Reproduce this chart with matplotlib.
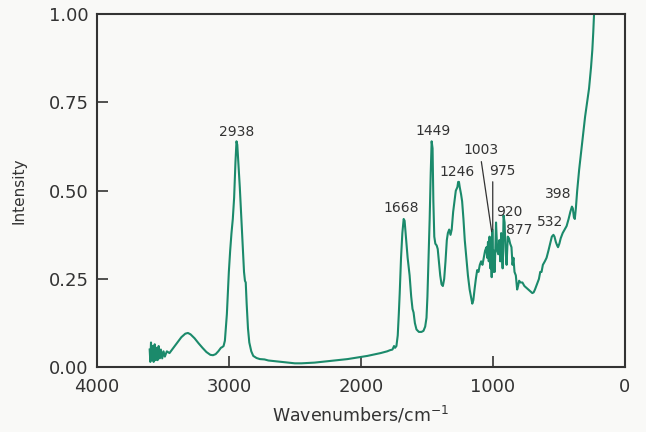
import numpy as np
import matplotlib
matplotlib.use("Agg")
import matplotlib.pyplot as plt

# spectrum (wavenumber in cm-1, intensity)
wavenumber = [3600, 3595, 3590, 3583, 3577, 3570, 3562, 3555, 3548, 3540, 3532, 3524, 3515,
              3505, 3495, 3485, 3470, 3450, 3420, 3390, 3360, 3330, 3310, 3290, 3260, 3230,
              3200, 3170, 3140, 3120, 3100, 3080, 3060, 3050, 3040, 3030, 3015, 3000, 2990,
              2980, 2970, 2960, 2950, 2942, 2936, 2928, 2917, 2905, 2895, 2885, 2878, 2872,
              2865, 2855, 2845, 2830, 2815, 2790, 2765, 2730, 2700, 2650, 2600, 2550, 2500,
              2450, 2400, 2350, 2300, 2250, 2200, 2150, 2100, 2050, 2000, 1950, 1900, 1850,
              1800, 1780, 1760, 1748, 1740, 1730, 1720, 1712, 1705, 1695, 1685, 1675, 1668,
              1658, 1645, 1630, 1618, 1608, 1600, 1590, 1578, 1560, 1540, 1525, 1512, 1502,
              1495, 1487, 1478, 1470, 1463, 1456, 1450, 1443, 1435, 1425, 1417, 1408, 1398,
              1388, 1378, 1368, 1358, 1348, 1340, 1330, 1320, 1311, 1300, 1290, 1280, 1268,
              1262, 1256, 1250, 1240, 1232, 1222, 1212, 1200, 1188, 1175, 1165, 1155, 1147,
              1138, 1128, 1118, 1108, 1098, 1088, 1078, 1068, 1058, 1048, 1042, 1036, 1030,
              1024, 1018, 1013, 1008, 1003, 996, 990, 985, 975, 966, 958, 950, 943, 936, 930,
              925, 918, 910, 903, 895, 886, 877, 868, 858, 850, 843, 835, 825, 815, 808, 800,
              790, 775, 760, 745, 730, 715, 700, 690, 680, 665, 650, 640, 630, 620, 605, 592,
              578, 565, 552, 540, 532, 522, 512, 505, 495, 485, 470, 455, 440, 425, 412, 400,
              393, 385, 378, 370, 360, 345, 330, 315, 300, 285, 270, 255, 245, 238, 230]
intensity = [0.05, 0.015, 0.07, 0.02, 0.06, 0.015, 0.065, 0.02, 0.055, 0.02, 0.06, 0.025, 0.05,
             0.025, 0.045, 0.03, 0.045, 0.04, 0.055, 0.07, 0.085, 0.095, 0.097, 0.093, 0.082,
             0.068, 0.055, 0.043, 0.035, 0.034, 0.037, 0.045, 0.055, 0.057, 0.06, 0.075, 0.15,
             0.27, 0.33, 0.38, 0.42, 0.48, 0.58, 0.64, 0.63, 0.58, 0.51, 0.42, 0.34, 0.27,
             0.245, 0.24, 0.18, 0.11, 0.07, 0.045, 0.032, 0.026, 0.023, 0.022, 0.019, 0.017,
             0.015, 0.013, 0.011, 0.011, 0.012, 0.013, 0.015, 0.017, 0.019, 0.021, 0.023,
             0.026, 0.029, 0.032, 0.036, 0.04, 0.045, 0.048, 0.05, 0.06, 0.055, 0.06, 0.09,
             0.15, 0.21, 0.31, 0.38, 0.42, 0.415, 0.37, 0.31, 0.26, 0.20, 0.165, 0.155, 0.125,
             0.107, 0.10, 0.10, 0.103, 0.115, 0.14, 0.2, 0.3, 0.42, 0.55, 0.64, 0.62, 0.47,
             0.37, 0.35, 0.345, 0.335, 0.30, 0.26, 0.235, 0.23, 0.25, 0.30, 0.36, 0.38, 0.39,
             0.375, 0.39, 0.44, 0.47, 0.50, 0.51, 0.525, 0.525, 0.51, 0.49, 0.47, 0.42, 0.36,
             0.31, 0.26, 0.22, 0.2, 0.18, 0.19, 0.22, 0.25, 0.275, 0.27, 0.29, 0.30, 0.29,
             0.31, 0.33, 0.34, 0.31, 0.355, 0.3, 0.37, 0.28, 0.33, 0.255, 0.39, 0.27, 0.33,
             0.27, 0.41, 0.33, 0.32, 0.36, 0.30, 0.38, 0.33, 0.28, 0.43, 0.41, 0.33, 0.29,
             0.37, 0.365, 0.35, 0.34, 0.29, 0.31, 0.27, 0.26, 0.22, 0.23, 0.245, 0.24, 0.24,
             0.23, 0.225, 0.22, 0.215, 0.21, 0.212, 0.22, 0.235, 0.25, 0.27, 0.27, 0.29, 0.30,
             0.31, 0.33, 0.35, 0.37, 0.375, 0.37, 0.355, 0.345, 0.34, 0.35, 0.365, 0.38, 0.39,
             0.40, 0.42, 0.44, 0.455, 0.45, 0.425, 0.42, 0.45, 0.50, 0.56, 0.61, 0.66, 0.71,
             0.75, 0.79, 0.85, 0.9, 0.95, 1.02]

# peak labels: text, label position (wavenumber, intensity)
peak_names = ["2938", "1668", "1449", "1246", "920", "877", "532", "398"]
peak_x = [2939, 1697, 1455, 1273, 871, 803, 568, 505]
peak_y = [0.665, 0.45, 0.668, 0.554, 0.44, 0.39, 0.41, 0.49]

# labels with leader lines: text, label position, point
lead_names = ["1003", "975"]
lead_x = [1091, 924]
lead_y = [0.614, 0.557]
lead_px = [1008, 1000]
lead_py = [0.384, 0.39]
lead_rel = [0.5, 0.12]

col = "#1b8a6b"
bg = "#f9f9f7"
ink = "#333333"

fig = plt.figure(figsize=(6.46, 4.32), dpi=100, facecolor=bg)
ax = fig.add_axes([0.150, 0.150, 0.817, 0.817], facecolor=bg)

ax.plot(wavenumber, intensity, color=col, linewidth=1.5)

for name, x, y in zip(peak_names, peak_x, peak_y):
    ax.text(x, y, name, ha="center", va="center", fontsize=10, color=ink)

for name, x, y, px, py, r in zip(lead_names, lead_x, lead_y, lead_px, lead_py, lead_rel):
    ax.annotate(name, xy=(px, py), xytext=(x, y), ha="center", va="center",
                fontsize=10, color=ink,
                arrowprops=dict(arrowstyle="-", color=ink, lw=0.9, relpos=(r, 0),
                                shrinkA=1, shrinkB=0))

ax.set_xlim(4000, 0)
ax.set_ylim(0, 1.0)
ax.set_xticks([4000, 3000, 2000, 1000, 0])
ax.set_yticks([0, 0.25, 0.5, 0.75, 1.0])
ax.set_yticklabels(["0.00", "0.25", "0.50", "0.75", "1.00"])

for s in ax.spines.values():
    s.set_color(ink)
    s.set_linewidth(1.5)
ax.tick_params(direction="in", length=8, width=1.2, color=ink,
               labelsize=13, labelcolor=ink)
ax.tick_params(axis="x", pad=8)
ax.tick_params(axis="y", pad=6)

ax.set_xlabel("Wavenumbers/cm$^{-1}$", fontsize=12.5, color=ink, labelpad=6)
ax.set_ylabel("Intensity", fontsize=11, color=ink, labelpad=16)

fig.savefig("out.png", dpi=100, facecolor=bg)
